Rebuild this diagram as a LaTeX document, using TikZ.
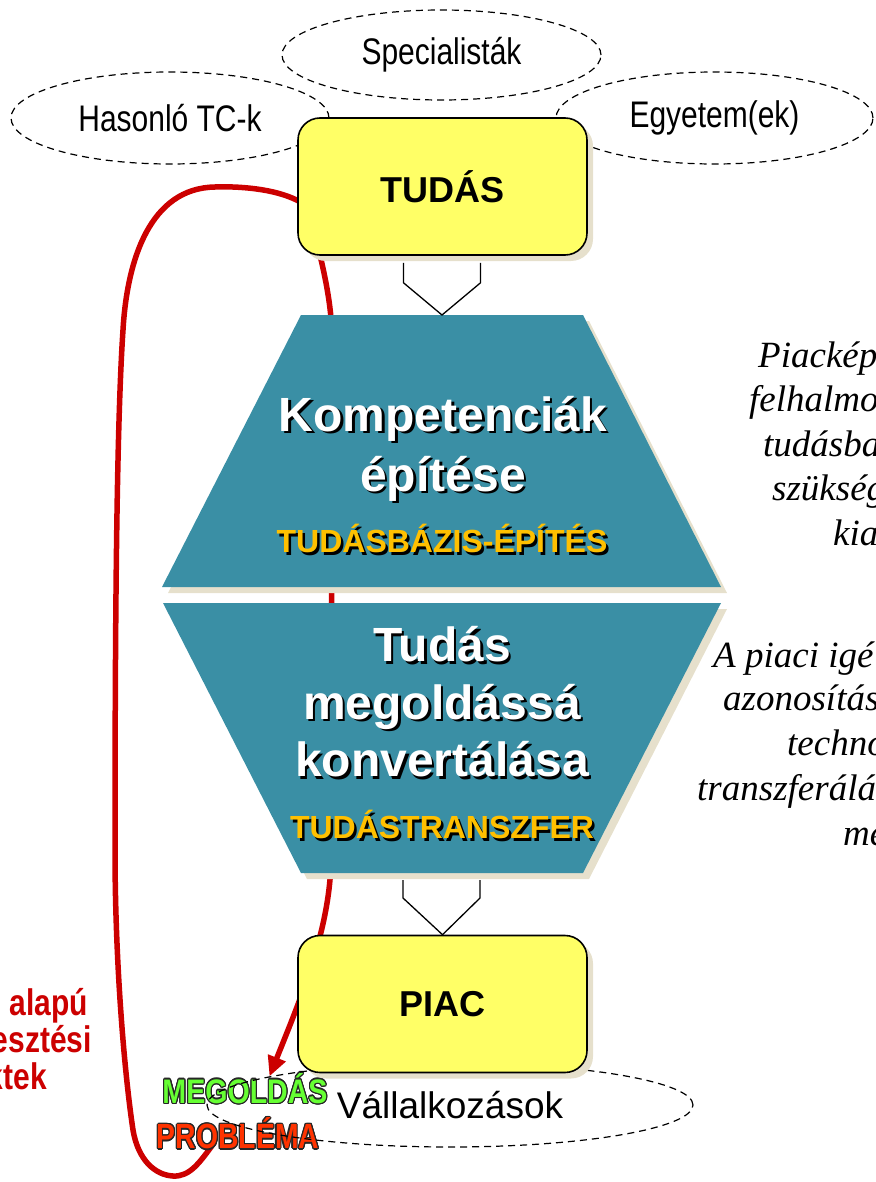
\documentclass[tikz,border=0pt]{standalone}
\usepackage{fontspec}
\setmainfont{Liberation Sans}
\newfontfamily\timesfont{Liberation Serif}
\usepackage{contour}
\contourlength{1.3pt}
\usetikzlibrary{shapes.geometric,arrows.meta,calc,shadows,positioning}

\definecolor{boxyellow}{RGB}{255,255,102}
\definecolor{shadowbeige}{RGB}{230,224,204}
\definecolor{trapteal}{RGB}{58,143,165}
\definecolor{darkred}{RGB}{204,0,0}
\definecolor{subgold}{RGB}{255,192,0}
\definecolor{solgreen}{RGB}{102,255,51}
\definecolor{probred}{RGB}{255,51,0}

\newcommand{\shadowed}[2]{\makebox[0pt][l]{\kern2.5pt\raisebox{-2.5pt}{\textcolor{black}{#2}}}\textcolor{#1}{#2}}
\newcommand{\narrow}[1]{\scalebox{0.81}[1]{#1}}

\pgfdeclarelayer{background}
\pgfsetlayers{background,main}

\tikzset{
  dashoval/.style={ellipse, draw, line width=1.2pt, dash pattern=on 7pt off 5pt, inner sep=0pt, font=\fontsize{37}{40}\selectfont},
  beigeshadow/.style={drop shadow={shadow xshift=6pt, shadow yshift=-6pt, fill=shadowbeige, opacity=1}},
  yellowbox/.style={rectangle, draw, line width=1.6pt, fill=boxyellow, rounded corners=22pt, minimum width=289pt, minimum height=137pt, font=\bfseries\fontsize{36}{40}\selectfont, beigeshadow},
  tealtrap/.style={fill=trapteal, beigeshadow},
  headtext/.style={align=center, inner sep=0pt, font=\bfseries\fontsize{48}{60}\selectfont},
  subtext/.style={inner sep=0pt, font=\bfseries\fontsize{32}{36}\selectfont},
  redline/.style={draw=darkred, line width=5.5pt, line cap=round},
  hollowarrow/.style={draw, line width=1.3pt, line join=miter},
  sidenote/.style={anchor=west, inner sep=0pt, text height=0.7em, text depth=0.25em, font=\timesfont\itshape\fontsize{37}{44}\selectfont},
  leftnote/.style={anchor=east, inner sep=0pt, text height=0.7em, text depth=0.25em, text=darkred, font=\bfseries\fontsize{37}{40}\selectfont},
  tagtext/.style={inner sep=0pt, font=\bfseries\fontsize{34}{38}\selectfont}
}

\begin{document}
\begin{tikzpicture}[x=1pt,y=-1pt]
    \useasboundingbox (0,0) rectangle (875,1182);

    % sources around TUDAS
    \node[dashoval, minimum width=319pt, minimum height=90pt] (spec) at (441.5,55) {\narrow{Specialisták}};
    \node[dashoval, minimum width=318pt, minimum height=92pt] (hason) at (170,118) {\narrow{Hasonló TC-k}};
    \node[dashoval, minimum width=317pt, minimum height=92pt] (egyet) at (714.5,118) {\narrow{Egyetem(ek)}};

    \node[yellowbox] (tudas) at (442.5,186.5) {TUDÁS};

    % upper trapezoid
    \fill[tealtrap] (301,315) -- (583,315) -- (721,587) -- (162,587) -- cycle;
    \coordinate (kompTop) at (442,315);
    \node[headtext] (kompet) at (443,450) {\shadowed{white}{Kompetenciák}\\\shadowed{white}{építése}};
    \node[subtext] (tbepit) at (442,540) {\shadowed{subgold}{TUDÁSBÁZIS-ÉPÍTÉS}};

    % lower trapezoid
    \fill[tealtrap] (163,603) -- (721,603) -- (583,873) -- (301,873) -- cycle;
    \coordinate (konvBot) at (442,873);
    \node[headtext, font=\bfseries\fontsize{48}{57.5}\selectfont] (konvert) at (442,703) {\shadowed{white}{Tudás}\\\shadowed{white}{megoldássá}\\\shadowed{white}{konvertálása}};
    \node[subtext] (transz) at (442,826) {\shadowed{subgold}{TUDÁSTRANSZFER}};

    % market side
    \node[tagtext] (megold) at (245,1089) {\scalebox{0.84}[1]{\contour{black!85}{\textcolor{solgreen}{MEGOLDÁS}}}};
    \node[tagtext, font=\bfseries\fontsize{35}{38}\selectfont] (probl) at (238,1134) {\narrow{\contour{black!85}{\textcolor{probred}{PROBLÉMA}}}};
    \node[dashoval, minimum width=486pt, minimum height=84pt] (vallal) at (450,1105) {Vállalkozások};
    \node[yellowbox] (piac) at (442.5,1004) {PIAC};

    % hollow connectors
    \draw[hollowarrow] ($(tudas.south)+(-39,7)$) -- ($(tudas.south)+(-39,27)$) -- (kompTop) -- ($(tudas.south)+(38,27)$) -- ($(tudas.south)+(38,7)$);
    \draw[hollowarrow] ($(konvBot)+(-39,7)$) -- ($(konvBot)+(-39,25)$) -- (piac.north) -- ($(konvBot)+(38,25)$) -- ($(konvBot)+(38,7)$);

    % side notes
    \node[sidenote] (pk1) at (758,365) {Piacképe};
    \node[sidenote] (pk2) at (749,409) {felhalmo};
    \node[sidenote] (pk3) at (763,454) {tudásba};
    \node[sidenote] (pk4) at (772,498) {szükség};
    \node[sidenote] (pk5) at (833,543) {kia};

    \node[sidenote] (ap1) at (713,665) {A piaci igé};
    \node[sidenote] (ap2) at (723,708) {azonosítás};
    \node[sidenote] (ap3) at (787,753) {techno};
    \node[sidenote] (ap4) at (697,798) {transzferálá};
    \node[sidenote] (ap5) at (843,843) {me};

    \node[leftnote] (tp1) at (88,1013) {\narrow{alapú}};
    \node[leftnote] (tp2) at (92,1050) {\narrow{esztési}};
    \node[leftnote] (tp3) at (47,1087) {\narrow{ktek}};

    % red feedback lines
    \coordinate (loopstart) at (214,1143);
    \begin{pgfonlayer}{background}
    \draw[redline] (loopstart) .. controls (200,1162) and (190,1177) .. (173,1176)
        .. controls (155,1175) and (138,1160) .. (133,1130)
        .. controls (124,1070) and (115,960) .. (115,850)
        .. controls (115,600) and (117,420) .. (123,330)
        .. controls (127,260) and (150,188) .. (215,187)
        .. controls (245,186) and (280,190) .. ($(tudas.west)+(4,16)$);
    \draw[redline, -{Triangle[length=20pt,width=18pt]}] ($(tudas.south west)+(22,-4)$) .. controls (326,280) and (332,310) .. (332,340)
        -- (331,860)
        .. controls (330,930) and (300,1000) .. (vallal.171);
    \end{pgfonlayer}
\end{tikzpicture}
\end{document}
